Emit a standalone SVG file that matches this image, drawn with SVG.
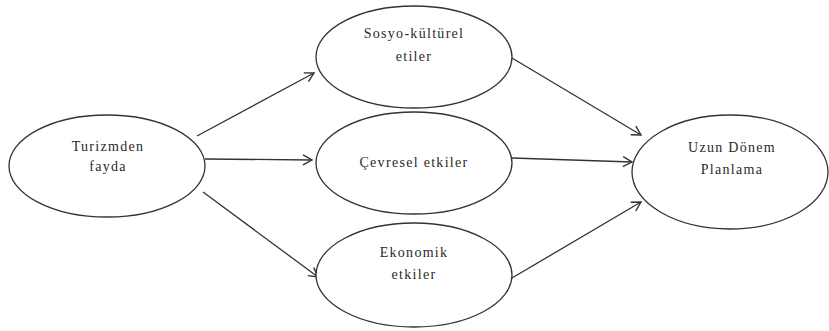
<svg xmlns="http://www.w3.org/2000/svg" width="829" height="331" viewBox="0 0 829 331">
<defs>
<marker id="arr" markerWidth="12" markerHeight="12" refX="10" refY="6" orient="auto" markerUnits="userSpaceOnUse">
<path d="M1,1 L10,6 L1,11" fill="none" stroke="#333" stroke-width="1.4"/>
</marker>
<style>
.n{fill:#fff;stroke:#333;stroke-width:1.3}
.t{font-size:14px;fill:#2a2a2a;text-anchor:middle;letter-spacing:1.3px}
.c{stroke:#333;stroke-width:1.3;fill:none;marker-end:url(#arr)}
</style>
</defs>
<rect width="829" height="331" fill="#fff"/>
<g id="connectors">
<line class="c" x1="197" y1="136" x2="314" y2="73"/>
<line class="c" x1="205" y1="159" x2="312" y2="160"/>
<line class="c" x1="203" y1="192" x2="318" y2="277"/>
<line class="c" x1="512" y1="58" x2="641" y2="135"/>
<line class="c" x1="512" y1="158" x2="632" y2="162"/>
<line class="c" x1="512" y1="278" x2="641" y2="202"/>
</g>
<g font-family="'Liberation Serif', 'Times New Roman', serif">
<g id="turizmden">
<ellipse class="n" cx="107" cy="166" rx="98" ry="51"/>
<text class="t" x="108" y="151">Turizmden</text>
<text class="t" x="108" y="171">fayda</text>
</g>
<g id="sosyo">
<ellipse class="n" cx="414" cy="57" rx="98" ry="51"/>
<text class="t" x="414" y="38">Sosyo-kültürel</text>
<text class="t" x="414" y="61">etiler</text>
</g>
<g id="cevresel">
<ellipse class="n" cx="414" cy="163" rx="98" ry="51"/>
<text class="t" x="414" y="167">Çevresel etkiler</text>
</g>
<g id="ekonomik">
<ellipse class="n" cx="414" cy="275" rx="98" ry="52"/>
<text class="t" x="414" y="257">Ekonomik</text>
<text class="t" x="414" y="279">etkiler</text>
</g>
<g id="uzun">
<ellipse class="n" cx="730" cy="172" rx="98" ry="57"/>
<text class="t" x="732" y="152">Uzun Dönem</text>
<text class="t" x="732" y="174">Planlama</text>
</g>
</g>
</svg>
